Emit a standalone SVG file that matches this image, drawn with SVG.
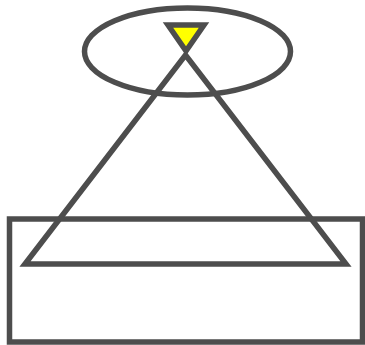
<svg xmlns="http://www.w3.org/2000/svg" width="365" height="345" viewBox="0 0 365 345">
<style>.s{fill:none;stroke:#4d4d4d;stroke-width:5.5}</style>
<rect width="365" height="345" fill="#fff"/>
<g id="base"><rect class="s" x="9.5" y="219" width="353" height="123"/></g>
<g id="ring"><ellipse class="s" cx="187.5" cy="51.5" rx="103" ry="43.5"/></g>
<g id="cone"><polygon class="s" points="25,264 185.5,55 346,264"/></g>
<g id="marker"><polygon class="s" points="168,25 204,25 186,51" style="fill:#ffff00"/></g>
</svg>
